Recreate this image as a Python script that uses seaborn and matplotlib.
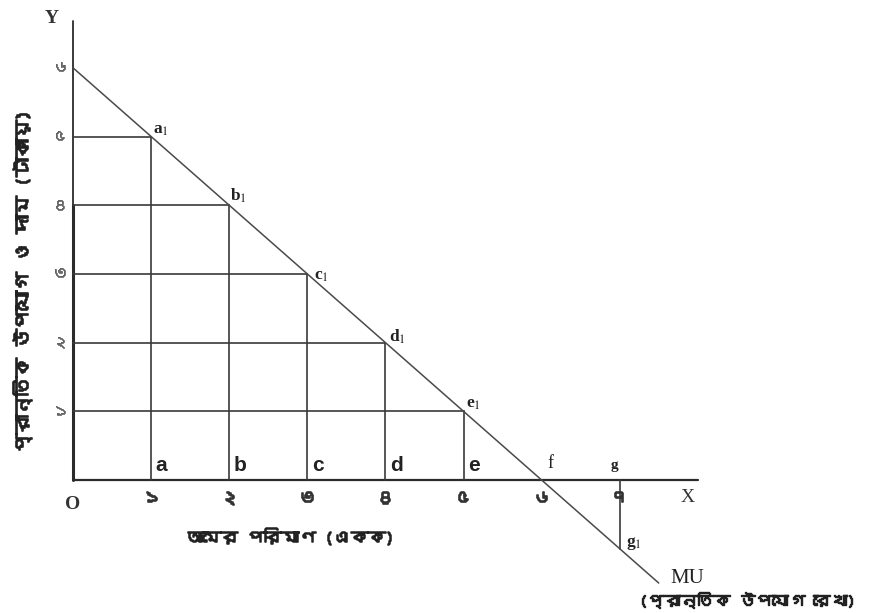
import matplotlib
matplotlib.use("Agg")
import matplotlib.pyplot as plt
import matplotlib.patheffects as pe
import seaborn as sns
import pandas as pd
from matplotlib import font_manager as fm

# ---------------- data ----------------
quantity = [1, 2, 3, 4, 5, 6, 7]
marginal_utility = [5, 4, 3, 2, 1, 0, -1]
mu_line_x = [0, 1, 2, 3, 4, 5, 6, 7, 7.5]
mu_line_y = [6, 5, 4, 3, 2, 1, 0, -1, -1.5]
x_tick_labels = ["১", "২", "৩", "৪", "৫", "৬", "৭"]
y_ticks = [1, 2, 3, 4, 5, 6]
y_tick_labels = ["১", "২", "৩", "৪", "৫", "৬"]
point_labels = ["a$_1$", "b$_1$", "c$_1$", "d$_1$", "e$_1$", "f", "g$_1$"]
base_labels = ["a", "b", "c", "d", "e"]
x_label = "আমের পরিমাণ (একক)"
y_label = "প্রান্তিক উপযোগ ও দাম (টাকায়)"
curve_name = "MU"
curve_desc = "(প্রান্তিক উপযোগ রেখা)"

# ---------------- fonts ----------------
def find_bengali_font():
    try:
        from fontTools.ttLib import TTFont
    except Exception:
        return None
    for f in fm.fontManager.ttflist:
        try:
            tt = TTFont(f.fname, fontNumber=0, lazy=True)
            cmap = tt.getBestCmap()
            if cmap and 0x0995 in cmap and 0x09E7 in cmap:
                return f.name
        except Exception:
            continue
    return None

sns.set_theme(style="white")
bn_font = find_bengali_font()
bn_family = [bn_font, "DejaVu Sans"] if bn_font else ["DejaVu Sans"]
plt.rcParams["font.family"] = ["DejaVu Sans"]
plt.rcParams["mathtext.fontset"] = "stix"
serif = ["Liberation Serif", "DejaVu Serif"]

def bold_fx(color, w=0.9):
    return [pe.withStroke(linewidth=w, foreground=color)]

# ---------------- figure ----------------
fig = plt.figure(figsize=(8.78, 6.13), dpi=100)
ax = fig.add_axes([0, 0, 1, 1])
# pixel mapping: origin at (73, 480); 78.1 px per unit x, 68.7 px per unit y
sx, sy, ox, oy = 78.1, 68.7, 73, 480
ax.set_xlim((0 - ox) / sx, (878 - ox) / sx)
ax.set_ylim((oy - 613) / sy, (oy - 0) / sy)
ax.axis("off")

dark = "#2b2b2b"
grid_c = "#3a3a3a"
mu_c = "#4a4a4a"

# axes
ax.plot([0, 0], [0, 6.68], color=dark, lw=1.3)
ax.plot([0, 0], [0, 4], color=dark, lw=2.2)
ax.plot([0, 8.0], [0, 0], color=dark, lw=1.6)

# grid rectangles under the curve
for q, u in zip(quantity[:5], marginal_utility[:5]):
    ax.plot([0, q], [u, u], color=grid_c, lw=1.2)
    ax.plot([q, q], [0, u], color=grid_c, lw=1.2)
# negative MU drop at 7
ax.plot([quantity[6], quantity[6]], [0, marginal_utility[6]], color=grid_c, lw=1.2)

# MU line
df = pd.DataFrame({"x": mu_line_x, "y": mu_line_y})
sns.lineplot(data=df, x="x", y="y", ax=ax, color=mu_c, lw=1.1, sort=False, estimator=None)

# point labels (offsets in pixels, converted to points)
offsets_px = [(10, 7), (9, 9), (14, -2), (12, 6), (10, 7), (0, 0), (14, 5)]
for q, u, lab, off in zip(quantity, marginal_utility, point_labels, offsets_px):
    if lab == "f":
        continue
    ax.annotate(lab, (q, u), xytext=(off[0] * 0.72, off[1] * 0.72), textcoords="offset points",
                fontsize=12.5, fontfamily=serif, fontweight="bold", color="#222",
                ha="center", va="center")
ax.text(6.08, 0.12, "f", fontsize=13, fontfamily=serif, color="#222", ha="left", va="bottom")
ax.text(6.93, 0.12, "g", fontsize=11, fontfamily=serif, fontweight="bold", color="#222",
        ha="center", va="bottom")

for q, lab in zip(quantity[:5], base_labels):
    ax.text(q + 0.06, 0.08, lab, fontsize=15, fontweight="bold", color="#222",
            ha="left", va="bottom", fontfamily=["Liberation Sans", "DejaVu Sans"])

# tick labels
for q, lab in zip(quantity, x_tick_labels):
    ax.text(q, -0.27, lab, fontsize=13, color="#333",
            ha="center", va="center", fontfamily=bn_family, path_effects=bold_fx("#333", 1.2))
for v, lab in zip(y_ticks, y_tick_labels):
    ax.text(-0.17, v, lab, fontsize=11.5, color="#666",
            ha="center", va="center", fontfamily=bn_family, path_effects=bold_fx("#666", 0.5))

# axis letters
ax.text(-0.01, -0.35, "O", fontsize=14, fontweight="bold", fontfamily=serif, color="#333",
        ha="center", va="center")
ax.text(-0.27, 6.72, "Y", fontsize=14, fontweight="bold", fontfamily=serif, color="#333",
        ha="center", va="center")
ax.text(7.87, -0.25, "X", fontsize=14, fontfamily=serif, color="#333",
        ha="center", va="center")

# axis titles
ax.text(2.78, -0.83, x_label, fontsize=12.5, color="#222",
        ha="center", va="center", fontfamily=bn_family, path_effects=bold_fx("#222", 1.1))
ax.text(-0.65, 2.88, y_label, fontsize=13.7, color="#222",
        ha="center", va="center", rotation=90, fontfamily=bn_family,
        path_effects=bold_fx("#222", 1.2))

# curve label
ax.text(7.65, -1.43, curve_name, fontsize=15, fontfamily=serif, color="#222",
        ha="left", va="center")
ax.text(7.24, -1.75, curve_desc, fontsize=12, color="#222",
        ha="left", va="center", fontfamily=bn_family, path_effects=bold_fx("#222", 1.0))

fig.savefig("out.png", dpi=100)
